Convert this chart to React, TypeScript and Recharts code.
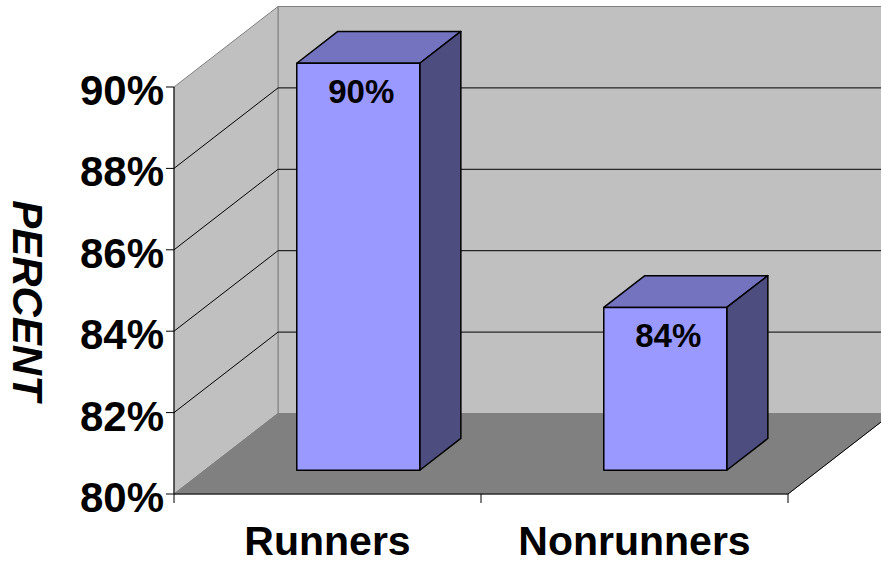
import React from 'react';
import { BarChart, Bar, XAxis, YAxis, CartesianGrid, LabelList } from 'recharts';

const categories = ['Runners', 'Nonrunners'];
const percents = [90, 84];
const yTicks = [80, 82, 84, 86, 88, 90];

const data = categories.map((name, i) => ({ name, value: percents[i] }));

// depth of the 3d box (pixels), and where the bars sit inside it
const DX = 104;
const DY = -80.5;
const BAR_SHIFT = 0.295;
const BAR_DEPTH = 0.395;

const FONT = 'Arial, "Liberation Sans", sans-serif';
const WALL = '#C0C0C0';
const FLOOR = '#808080';
const FRONT = '#9999FF';
const TOP = '#7373BF';
const SIDE = '#4D4D80';

// custom grid line: draws walls + floor once, then each line on the left and back walls
function GridLine(props: any) {
  const { x1, x2, y1, index } = props;
  const top = props.y;
  const bottom = props.y + props.height;
  const left = x1;
  const right = x2;
  const walls =
    index === 0 ? (
      <g>
        <polygon
          points={`${left + DX},${top + DY} ${right + DX},${top + DY} ${right + DX},${bottom + DY} ${left + DX},${bottom + DY}`}
          fill={WALL}
          stroke={FLOOR}
        />
        <polygon
          points={`${left},${top} ${left + DX},${top + DY} ${left + DX},${bottom + DY} ${left},${bottom}`}
          fill={WALL}
          stroke={FLOOR}
        />
        <polygon
          points={`${left},${bottom} ${left + DX},${bottom + DY} ${right + DX},${bottom + DY} ${right},${bottom}`}
          fill={FLOOR}
          stroke={FLOOR}
        />
        <line x1={right} y1={bottom} x2={right + DX} y2={bottom + DY} stroke="#000" />
      </g>
    ) : null;
  const inner = y1 > top + 1 && y1 < bottom - 1;
  return (
    <g key={`grid-${index}`}>
      {walls}
      {inner && (
        <g stroke="#000" strokeWidth={1}>
          <line x1={left} y1={y1} x2={left + DX} y2={y1 + DY} />
          <line x1={left + DX} y1={y1 + DY} x2={right + DX} y2={y1 + DY} />
        </g>
      )}
    </g>
  );
}

function Bar3D(props: any) {
  const { x, y, width, height } = props;
  const fx = x + DX * BAR_SHIFT;
  const fy = y + DY * BAR_SHIFT;
  const bx = DX * BAR_DEPTH;
  const by = DY * BAR_DEPTH;
  return (
    <g stroke="#000" strokeWidth={1.5} strokeLinejoin="round">
      <polygon
        points={`${fx},${fy} ${fx + bx},${fy + by} ${fx + width + bx},${fy + by} ${fx + width},${fy}`}
        fill={TOP}
      />
      <polygon
        points={`${fx + width},${fy} ${fx + width + bx},${fy + by} ${fx + width + bx},${fy + height + by} ${fx + width},${fy + height}`}
        fill={SIDE}
      />
      <rect x={fx} y={fy} width={width} height={height} fill={FRONT} />
    </g>
  );
}

function ValueLabel(props: any) {
  const { x, y, width, value } = props;
  return (
    <text
      x={x + DX * BAR_SHIFT + width / 2 + 3}
      y={y + DY * BAR_SHIFT + 40}
      textAnchor="middle"
      fontFamily={FONT}
      fontWeight="bold"
      fontSize={33}
      fill="#000"
    >
      {value}%
    </text>
  );
}

function YTick(props: any) {
  const { x, y, payload } = props;
  return (
    <text x={x} y={y + 18} textAnchor="end" fontFamily={FONT} fontWeight="bold" fontSize={42} fill="#000">
      {payload.value}%
    </text>
  );
}

function XTick(props: any) {
  const { x, y, payload, index } = props;
  const half = payload.offset || props.width / (props.visibleTicksCount || 2) / 2;
  return (
    <g>
      <line x1={x + half} y1={y - 9} x2={x + half} y2={y} stroke="#000" />
      {index === 0 && <line x1={x - half} y1={y - 9} x2={x - half} y2={y} stroke="#000" />}
      <text x={x} y={y + 52} textAnchor="middle" fontFamily={FONT} fontWeight="bold" fontSize={41} fill="#000">
        {payload.value}
      </text>
    </g>
  );
}

function PercentLabel(props: any) {
  const vb = props.viewBox || { x: 0, y: 87, height: 407 };
  const cx = vb.x + 27;
  const cy = vb.y + vb.height / 2 + 10;
  return (
    <text
      x={cx}
      y={cy}
      transform={`rotate(90, ${cx}, ${cy})`}
      textAnchor="middle"
      dominantBaseline="central"
      fontFamily={FONT}
      fontWeight="bold"
      fontStyle="italic"
      fontSize={42}
      fill="#000"
    >
      PERCENT
    </text>
  );
}

export default function App() {
  return (
    <div style={{ position: 'absolute', left: 0, top: 0, width: 881, height: 565, overflow: 'hidden', background: '#fff' }}>
      <BarChart
        width={881}
        height={565}
        data={data}
        margin={{ top: 87, right: 93, bottom: 0, left: 0 }}
        barCategoryGap="30%"
      >
        <CartesianGrid horizontal={GridLine} vertical={false} />
        <XAxis
          dataKey="name"
          height={71}
          tickLine={false}
          tickSize={9}
          tickMargin={0}
          axisLine={{ stroke: '#000' }}
          tick={XTick}
          interval={0}
        />
        <YAxis
          width={174}
          domain={[80, 90]}
          ticks={yTicks}
          tickSize={8}
          tickMargin={2}
          tickLine={{ stroke: '#000' }}
          axisLine={{ stroke: '#000' }}
          tick={YTick}
          label={{ content: PercentLabel }}
        />
        <Bar dataKey="value" shape={Bar3D} isAnimationActive={false}>
          <LabelList dataKey="value" content={ValueLabel} />
        </Bar>
      </BarChart>
    </div>
  );
}
